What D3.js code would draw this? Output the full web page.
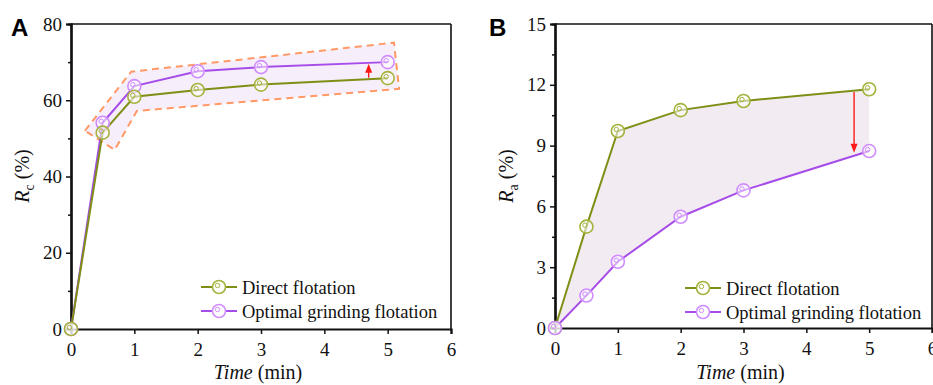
<!DOCTYPE html>
<html>
<head>
<meta charset="utf-8">
<script src="https://cdn.jsdelivr.net/npm/d3@7"></script>
<style>
  body { margin: 0; background: #fff; }
  #chart { display: flex; }
  svg { display: block; }
</style>
</head>
<body>
<div id="chart"></div>
<script>
// data
const times = [0, 0.5, 1, 2, 3, 5]
const rcDirect = [0, 51.5, 60.9, 62.7, 64.1, 65.8]
const rcOptimal = [0, 54.1, 63.7, 67.6, 68.7, 70.0]
const raDirect = [0, 5.0, 9.72, 10.75, 11.2, 11.78]
const raOptimal = [0, 1.6, 3.27, 5.49, 6.79, 8.73]

const xTicks = [0, 1, 2, 3, 4, 5, 6]
const rcTicks = [0, 20, 40, 60, 80]
const raTicks = [0, 3, 6, 9, 12, 15]
const seriesNames = ["Direct flotation", "Optimal grinding flotation"]

// dashed highlight box in panel A (time, Rc)
const rcBox = [[0.22, 52.0], [0.95, 67.5], [5.10, 75.1], [5.18, 63.0], [1.04, 57.2], [0.69, 47.0]]
// arrows [time, from, to]
const rcArrow = [4.7, 65.9, 69.6]
const raArrow = [4.76, 11.65, 8.65]

const height = 385
const serif = "'Liberation Serif', 'Times New Roman', Times, serif"

const colors = {
    direct: { line: "#7f8f16", mark: "#a5b23c" },
    optimal: { line: "#a64ce8", mark: "#d08cff" }
}

function drawPanel(p) {
    const svg = d3.select("div#chart").append("svg").attr("width", p.svgW).attr("height", height)
        .style("font-family", serif)
    const g = svg.append("g").attr("transform", `translate(${-p.offset},0)`).style("font-family", serif)
    const x = d3.scaleLinear().domain([0, 6]).range([p.left, p.right])
    const y = d3.scaleLinear().domain([0, p.yMax]).range([p.bottom, p.top])

    const direct = times.map((t, i) => [t, p.direct[i]])
    const optimal = times.map((t, i) => [t, p.optimal[i]])
    const line = d3.line().x(d => x(d[0])).y(d => y(d[1]))

    // shaded areas
    if (p.box) {
        g.append("path")
            .attr("d", line(p.box) + "Z")
            .attr("fill", "#f7eefb")
            .attr("stroke", "#ff9966")
            .attr("stroke-width", 2)
            .attr("stroke-dasharray", "7,5")
    }
    if (p.fillBetween) {
        const area = d3.area()
            .x((d, i) => x(times[i]))
            .y0((d, i) => y(p.optimal[i]))
            .y1((d, i) => y(p.direct[i]))
        g.append("path").datum(times).attr("d", area).attr("fill", "#f2ecf2")
    }

    // frame: top and right thin
    g.append("line").attr("x1", p.left).attr("x2", p.right).attr("y1", p.top).attr("y2", p.top)
        .attr("stroke", "#111").attr("stroke-width", 1.6)
    g.append("line").attr("x1", p.right).attr("x2", p.right).attr("y1", p.top).attr("y2", p.bottom)
        .attr("stroke", "#111").attr("stroke-width", 1.6)

    // axes
    const xAxis = d3.axisBottom(x).tickValues(xTicks).tickSize(5).tickPadding(5).tickFormat(d3.format("d"))
    const yAxis = d3.axisLeft(y).tickValues(p.yTicks).tickSize(5).tickPadding(4).tickFormat(d3.format("d"))
    const yMinor = d3.axisLeft(y).tickValues(p.yTicks.slice(0, -1).map((v, i) => (v + p.yTicks[i + 1]) / 2))
        .tickSize(3).tickFormat("")

    const xg = g.append("g").attr("transform", `translate(0,${p.bottom})`).call(xAxis)
    const yg = g.append("g").attr("transform", `translate(${p.left},0)`).call(yAxis)
    const ymg = g.append("g").attr("transform", `translate(${p.left},0)`).call(yMinor)
    ;[xg, yg, ymg].forEach(a => {
        a.attr("font-family", null).attr("font-size", null)
        a.select(".domain").attr("stroke", "#111").attr("stroke-width", 2.2)
        a.selectAll(".tick line").attr("stroke", "#111").attr("stroke-width", 1.5)
        a.selectAll(".tick text").attr("fill", "#111").style("font-size", "19px")
            .style("font-family", serif)
    })
    xg.selectAll(".tick text").attr("dy", "0.9em")

    // lines + markers
    const series = [[optimal, colors.optimal], [direct, colors.direct]]
    if (p.directOnTop) series.reverse()
    series.forEach(([data, c]) => {
        g.append("path").datum(data).attr("d", line)
            .attr("fill", "none").attr("stroke", c.line).attr("stroke-width", 2)
    })
    series.forEach(([data, c]) => {
        const m = g.selectAll(null).data(data).enter().append("g")
            .attr("transform", d => `translate(${x(d[0])},${y(d[1])})`)
        m.append("circle").attr("r", 6.5).attr("fill", "rgba(255,255,255,0.55)")
            .attr("stroke", c.mark).attr("stroke-width", 1.6)
        m.append("circle").attr("r", 2.2).attr("cx", -1.5).attr("cy", -1.5)
            .attr("fill", "none").attr("stroke", c.mark).attr("stroke-width", 1)
    })

    // red arrow
    const ax = x(p.arrow[0]), ay1 = y(p.arrow[1]), ay2 = y(p.arrow[2])
    const dir = ay2 < ay1 ? 1 : -1
    g.append("line")
        .attr("x1", ax).attr("x2", ax)
        .attr("y1", ay1).attr("y2", ay2 + dir * 6)
        .attr("stroke", "#ff1a1a").attr("stroke-width", 1.4)
    g.append("path")
        .attr("d", `M${ax},${ay2} L${ax - 3.5},${ay2 + dir * 9} L${ax + 3.5},${ay2 + dir * 9} Z`)
        .attr("fill", "#ff1a1a")

    // legend
    const legend = g.append("g").attr("transform", `translate(${p.legendX},${p.legendY})`)
    ;[colors.direct, colors.optimal].forEach((c, i) => {
        const row = legend.append("g").attr("transform", `translate(0,${i * 24})`)
        row.append("line").attr("x1", 0).attr("x2", 36).attr("stroke", c.line).attr("stroke-width", 2)
        row.append("circle").attr("cx", 18).attr("r", 6.5).attr("fill", "#fff")
            .attr("stroke", c.mark).attr("stroke-width", 1.6)
        row.append("circle").attr("cx", 16.5).attr("cy", -1.5).attr("r", 2.2)
            .attr("fill", "none").attr("stroke", c.mark).attr("stroke-width", 1)
        row.append("text").attr("x", 41).attr("y", 6.5)
            .style("font-family", serif)
            .style("font-size", "18.5px").attr("fill", "#111").text(seriesNames[i])
    })

    // axis titles
    const xt = g.append("text").attr("x", (p.left + p.right) / 2 - 3).attr("y", 379)
        .style("font-family", serif)
        .attr("text-anchor", "middle").style("font-size", "20px").attr("fill", "#111")
    xt.append("tspan").style("font-style", "italic").text("Time")
    xt.append("tspan").text(" (min)")

    const yt = g.append("text")
        .attr("transform", `translate(${p.yTitleX},176) rotate(-90)`)
        .style("font-family", serif)
        .attr("text-anchor", "middle").style("font-size", "20px").attr("fill", "#111")
    yt.append("tspan").style("font-style", "italic").text("R")
    yt.append("tspan").attr("dy", 5).style("font-size", "14px").text(p.sub)
    yt.append("tspan").attr("dy", -5).text(" (%)")

    // panel letter
    g.append("text").attr("x", p.letterX).attr("y", 36)
        .style("font-family", "'Liberation Sans', Arial, sans-serif")
        .style("font-weight", "bold").style("font-size", "24px").attr("fill", "#000")
        .text(p.letter)
}

drawPanel({
    svgW: 466, offset: 0,
    letter: "A", letterX: 11,
    left: 71, right: 451, top: 24, bottom: 329,
    yMax: 80, yTicks: rcTicks,
    direct: rcDirect, optimal: rcOptimal,
    box: rcBox, arrow: rcArrow,
    legendX: 201, legendY: 287,
    yTitleX: 29, sub: "c"
})

drawPanel({
    svgW: 467, offset: 466,
    letter: "B", letterX: 489,
    left: 555, right: 932, top: 24, bottom: 328,
    yMax: 15, yTicks: raTicks,
    direct: raDirect, optimal: raOptimal,
    fillBetween: true, arrow: raArrow, directOnTop: true,
    legendX: 685, legendY: 288,
    yTitleX: 513, sub: "a"
})
</script>
</body>
</html>
